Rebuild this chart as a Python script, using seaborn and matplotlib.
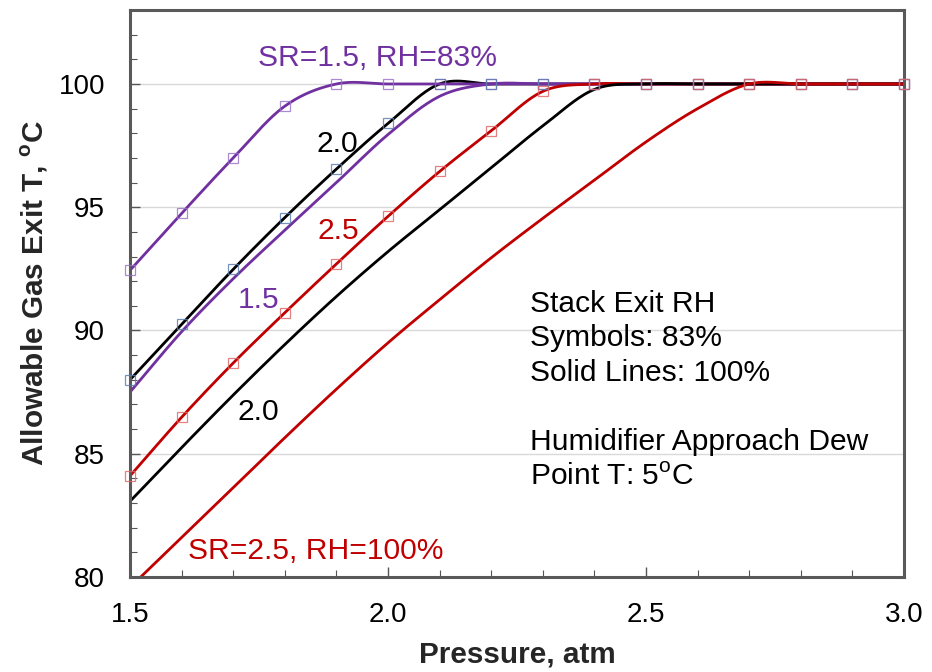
import numpy as np
import pandas as pd
import seaborn as sns
import matplotlib.pyplot as plt
from matplotlib.ticker import MultipleLocator, FormatStrFormatter

# ---- data -------------------------------------------------------------
pressure = [1.5, 1.6, 1.7, 1.8, 1.9, 2.0, 2.1, 2.2, 2.3, 2.4, 2.5, 2.6, 2.7, 2.8, 2.9, 3.0]

# stack exit RH = 83 % (drawn with symbols)
sr15_rh83 = [92.44, 94.75, 97.0, 99.1, 100.0, 100.0, 100.0, 100.0, 100.0, 100.0, 100.0, 100.0, 100.0, 100.0, 100.0, 100.0]
sr20_rh83 = [88.0, 90.25, 92.48, 94.58, 96.55, 98.4, 100.0, 100.0, 100.0, 100.0, 100.0, 100.0, 100.0, 100.0, 100.0, 100.0]
sr25_rh83 = [84.1, 86.48, 88.68, 90.72, 92.7, 94.63, 96.45, 98.1, 99.7, 100.0, 100.0, 100.0, 100.0, 100.0, 100.0, 100.0]

# stack exit RH = 100 % (solid lines)
sr15_rh100 = [87.5, 89.95, 92.1, 94.07, 96.0, 97.95, 99.5, 100.0, 100.0, 100.0, 100.0, 100.0, 100.0, 100.0, 100.0, 100.0]
sr20_rh100 = [83.07, 85.25, 87.38, 89.43, 91.38, 93.2, 94.9, 96.6, 98.3, 99.78, 100.0, 100.0, 100.0, 100.0, 100.0, 100.0]
sr25_rh100 = [79.58, 81.6, 83.62, 85.65, 87.62, 89.5, 91.25, 92.95, 94.55, 96.1, 97.65, 99.0, 100.0, 100.0, 100.0, 100.0]

x_ticks = [1.5, 2.0, 2.5, 3.0]
y_ticks = [80, 85, 90, 95, 100]

PURPLE = "#7030a0"
RED = "#c00000"
BLACK = "#000000"


def smooth(xs, ys, steps=30):
    """Catmull-Rom smoothed path through the points (spreadsheet-style smoothed line)."""
    xs = np.asarray(xs, float)
    ys = np.asarray(ys, float)
    px = np.concatenate([[2 * xs[0] - xs[1]], xs, [2 * xs[-1] - xs[-2]]])
    py = np.concatenate([[2 * ys[0] - ys[1]], ys, [2 * ys[-1] - ys[-2]]])
    out_x, out_y = [], []
    t = np.linspace(0, 1, steps, endpoint=False)
    for i in range(1, len(px) - 2):
        m0 = (py[i + 1] - py[i - 1]) / 2
        m1 = (py[i + 2] - py[i]) / 2
        h00 = 2 * t**3 - 3 * t**2 + 1
        h10 = t**3 - 2 * t**2 + t
        h01 = -2 * t**3 + 3 * t**2
        h11 = t**3 - t**2
        out_y.append(h00 * py[i] + h10 * m0 + h01 * py[i + 1] + h11 * m1)
        out_x.append(px[i] + t * (px[i + 1] - px[i]))
    out_x.append([xs[-1]])
    out_y.append([ys[-1]])
    return np.concatenate(out_x), np.concatenate(out_y)


curves = [
    ("SR=2.0, RH=83%", sr20_rh83, BLACK),
    ("SR=1.5, RH=83%", sr15_rh83, PURPLE),
    ("SR=1.5, RH=100%", sr15_rh100, PURPLE),
    ("SR=2.5, RH=83%", sr25_rh83, RED),
    ("SR=2.0, RH=100%", sr20_rh100, BLACK),
    ("SR=2.5, RH=100%", sr25_rh100, RED),
]

frames = []
for name, vals, _ in curves:
    sx, sy = smooth(pressure, vals)
    frames.append(pd.DataFrame({"Pressure": sx, "T": sy, "curve": name}))
df = pd.concat(frames, ignore_index=True)

# ---- figure -------------------------------------------------------------
sns.set_theme(style="white")
plt.rcParams["font.family"] = ["Liberation Sans", "DejaVu Sans"]
plt.rcParams["mathtext.fontset"] = "custom"
plt.rcParams["mathtext.rm"] = "Liberation Sans"
plt.rcParams["mathtext.bf"] = "Liberation Sans:bold"

fig = plt.figure(figsize=(9.32, 6.72), dpi=100)
ax = fig.add_axes([0.1395, 0.1414, 0.8305, 0.8437])

sns.lineplot(
    data=df, x="Pressure", y="T", hue="curve",
    hue_order=[c[0] for c in curves],
    palette={c[0]: c[2] for c in curves},
    sort=False, estimator=None, linewidth=2.0, legend=False, ax=ax,
)

# symbols for the 83 % RH cases
marker_sets = [
    (sr15_rh83, "#9a70c8d0"),
    (sr20_rh83, "#5a7ab0d0"),
    (sr25_rh83, "#e06464d0"),
]
for vals, col in marker_sets:
    sns.lineplot(
        x=pressure, y=vals, ax=ax, marker="s", linestyle="none",
        markersize=7.2, markerfacecolor="none", markeredgecolor=col,
        markeredgewidth=0.9, clip_on=False, zorder=5, legend=False,
        estimator=None, sort=False,
    )

ax.set_xlim(1.5, 3.0)
ax.set_ylim(80, 103)
ax.set_xticks(x_ticks)
ax.set_yticks(y_ticks)
ax.xaxis.set_major_formatter(FormatStrFormatter("%.1f"))
ax.xaxis.set_minor_locator(MultipleLocator(0.1))
ax.yaxis.set_minor_locator(MultipleLocator(1))

ax.yaxis.grid(True, which="major", color="#d9d9d9", linewidth=1.0)
ax.xaxis.grid(False)
ax.set_axisbelow(True)

for s in ax.spines.values():
    s.set_visible(True)
    s.set_color("#595959")
    s.set_linewidth(2.2)

ax.tick_params(which="both", direction="in", left=True, bottom=True,
               top=False, right=False, colors="#555555", labelcolor="black")
ax.tick_params(which="major", length=7, width=1.0, labelsize=20, pad=18)
ax.tick_params(which="minor", length=5, width=0.8)

ax.set_xlabel("Pressure, atm", fontsize=21.4, fontweight="bold", labelpad=9)
ax.set_ylabel(r"Allowable Gas Exit T, $^{\mathbf{o}}$C", fontsize=21.4,
              fontweight="bold", labelpad=6)

# curve labels
FS = 21.6
ax.text(1.748, 100.73, "SR=1.5, RH=83%", color=PURPLE, fontsize=FS, va="baseline")
ax.text(1.862, 97.25, "2.0", color=BLACK, fontsize=FS, va="baseline")
ax.text(1.864, 93.72, "2.5", color=RED, fontsize=FS, va="baseline")
ax.text(1.709, 90.93, "1.5", color=PURPLE, fontsize=FS, va="baseline")
ax.text(1.709, 86.36, "2.0", color=BLACK, fontsize=FS, va="baseline")
ax.text(1.612, 80.73, "SR=2.5, RH=100%", color=RED, fontsize=FS, va="baseline")

# notes
notes = [
    (90.75, "Stack Exit RH"),
    (89.35, "Symbols: 83%"),
    (87.96, "Solid Lines: 100%"),
    (85.14, "Humidifier Approach Dew"),
    (83.74, r"Point T: 5$^{\mathrm{o}}$C"),
]
for y, s in notes:
    ax.text(2.275, y, s, color="black", fontsize=FS, va="baseline")

fig.savefig("out.png", dpi=100)
